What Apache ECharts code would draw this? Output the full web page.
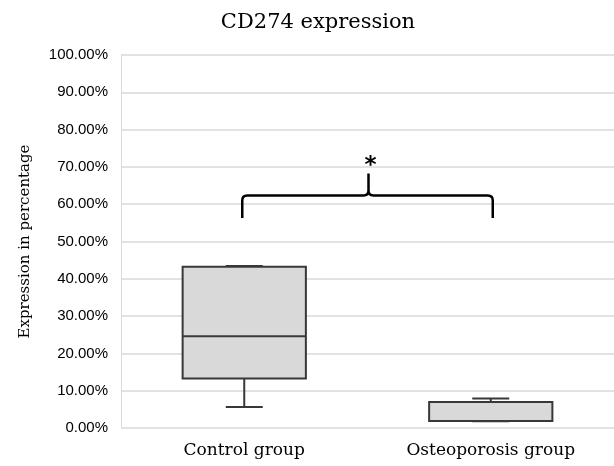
<!DOCTYPE html>
<html>
<head>
<meta charset="utf-8">
<script src="https://cdn.jsdelivr.net/npm/echarts@6/dist/echarts.min.js"></script>
<style>html,body{margin:0;padding:0;background:#fff}#c{width:614px;height:466px}</style>
</head>
<body>
<div id="c"></div>
<script>
var categories = ['Control group', 'Osteoporosis group'];
// [min, Q1, median, Q3, max] in percent
var controlStats = [5.6, 13.3, 24.6, 43.2, 43.4];
var osteoStats = [1.8, 1.9, 1.9, 7.0, 7.9];
var yTicks = [0, 10, 20, 30, 40, 50, 60, 70, 80, 90, 100];
// significance brace: [leg bottom, bar level, peak level]
var braceLevels = [56.3, 62.3, 68.2];
var sigLabel = '*';

var serif = '"DejaVu Serif", serif';
var chart = echarts.init(document.getElementById('c'));

function boxRender(params, api) {
  var x = api.value(0);
  var mn = api.value(1), q1 = api.value(2), md = api.value(3), q3 = api.value(4), mx = api.value(5);
  var band = api.size([1, 0])[0];
  var bw = band * 0.5, cw = band * 0.15;
  var pMin = api.coord([x, mn]), pQ1 = api.coord([x, q1]), pMd = api.coord([x, md]), pQ3 = api.coord([x, q3]), pMax = api.coord([x, mx]);
  var cx = pMin[0];
  var st = {stroke: '#383838', lineWidth: 2, fill: null};
  return {
    type: 'group',
    children: [
      {type: 'line', shape: {x1: cx, y1: pQ1[1], x2: cx, y2: pMin[1]}, style: st},
      {type: 'line', shape: {x1: cx, y1: pQ3[1], x2: cx, y2: pMax[1]}, style: st},
      {type: 'rect', shape: {x: cx - bw / 2, y: pQ3[1], width: bw, height: pQ1[1] - pQ3[1]}, style: {fill: '#d9d9d9', stroke: '#383838', lineWidth: 2}},
      {type: 'line', shape: {x1: cx - bw / 2, y1: pMd[1], x2: cx + bw / 2, y2: pMd[1]}, style: st},
      {type: 'line', shape: {x1: cx - cw / 2, y1: pMin[1], x2: cx + cw / 2, y2: pMin[1]}, style: st},
      {type: 'line', shape: {x1: cx - cw / 2, y1: pMax[1], x2: cx + cw / 2, y2: pMax[1]}, style: st}
    ]
  };
}

function braceRender(params, api) {
  var l = api.value(0), r = api.value(1);
  var pl = api.coord([l, braceLevels[0]]);
  var pr = api.coord([r, braceLevels[0]]);
  var yb = api.coord([l, braceLevels[1]])[1];
  var yp = api.coord([l, braceLevels[2]])[1];
  var xl = pl[0] - 2, xr = pr[0] + 2, xm = (xl + xr) / 2 + 1;
  var rad = 5;
  var d = 'M' + xl + ' ' + pl[1] +
    ' L' + xl + ' ' + (yb + rad) +
    ' Q' + xl + ' ' + yb + ' ' + (xl + rad) + ' ' + yb +
    ' L' + (xm - rad) + ' ' + yb +
    ' Q' + xm + ' ' + yb + ' ' + xm + ' ' + (yb - rad) +
    ' L' + xm + ' ' + yp +
    ' M' + xm + ' ' + (yb - rad) +
    ' Q' + xm + ' ' + yb + ' ' + (xm + rad) + ' ' + yb +
    ' L' + (xr - rad) + ' ' + yb +
    ' Q' + xr + ' ' + yb + ' ' + xr + ' ' + (yb + rad) +
    ' L' + xr + ' ' + pr[1];
  return {
    type: 'group',
    children: [
      {type: 'path', shape: {pathData: d}, style: {stroke: '#000', lineWidth: 2.5, fill: null}},
      {type: 'text', style: {text: sigLabel, x: xm + 2, y: yp + 4, align: 'center', verticalAlign: 'bottom', font: 'bold 23px "DejaVu Sans", sans-serif', fill: '#000'}}
    ]
  };
}

chart.setOption({
  animation: false,
  backgroundColor: '#fff',
  title: {
    text: 'CD274 expression', left: 313, top: 7, textAlign: 'center',
    textStyle: {fontFamily: serif, fontSize: 21, fontWeight: 'normal', color: '#000'}
  },
  grid: {left: 121, right: 0, top: 55, bottom: 38},
  xAxis: {
    type: 'category', data: categories, boundaryGap: true,
    axisLine: {show: false}, axisTick: {show: false},
    axisLabel: {fontFamily: serif, fontSize: 17, color: '#000', margin: 14}
  },
  yAxis: {
    type: 'value', min: 0, max: 100, interval: 10,
    name: 'Expression in percentage', nameLocation: 'middle', nameGap: 88, nameRotate: 90,
    nameTextStyle: {fontFamily: serif, fontSize: 15, color: '#000'},
    axisLine: {show: true, lineStyle: {color: '#d9d9d9', width: 1}},
    axisTick: {show: false},
    splitLine: {lineStyle: {color: '#d9d9d9', width: 1.5}},
    axisLabel: {fontFamily: '"Liberation Sans", Arial, sans-serif', fontSize: 15, color: '#000', margin: 13,
      formatter: function (v) { return v.toFixed(2) + '%'; }},
    data: yTicks
  },
  series: [
    {
      type: 'custom', renderItem: boxRender,
      encode: {x: 0, y: [1, 2, 3, 4, 5]},
      data: [[0].concat(controlStats), [1].concat(osteoStats)]
    },
    {
      type: 'custom', renderItem: braceRender,
      encode: {x: [0, 1], y: 2},
      data: [[0, 1, braceLevels[2]]],
      z: 5
    }
  ]
});
</script>
</body>
</html>
